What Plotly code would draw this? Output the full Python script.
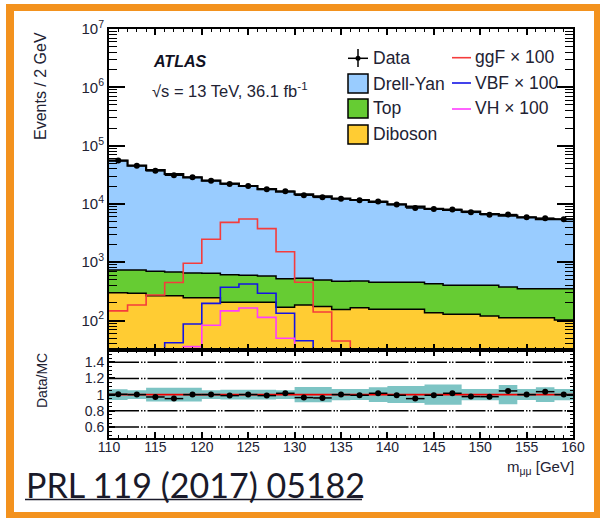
import plotly.graph_objects as go

# ---------------- data ----------------
bin_edges = list(range(110, 162, 2))
bin_centers = [e + 1 for e in bin_edges[:-1]]

drell_yan = [54400, 44500, 37400, 31900, 27900, 24400, 21600, 19700, 17400, 15700,
             14100, 13000, 11800, 11200, 10400, 9400, 8500, 7800, 7500, 6950,
             6310, 5900, 5540, 5150, 5100]
top = [434, 441, 432, 413, 407, 399, 406, 391, 375, 353, 345, 322, 316, 310, 296,
       296, 296, 292, 273, 273, 282, 264, 239, 239, 249]
diboson = [300, 293, 266, 266, 246, 246, 205, 205, 205, 168, 184, 173, 154, 166, 156,
           156, 156, 136, 128, 128, 119, 112, 112, 112, 102]
data = [55350, 45230, 36990, 30980, 28550, 25050, 21940, 20300, 17760, 16480,
        14090, 12940, 12270, 11580, 11030, 9770, 8510, 8160, 8030, 7170,
        6540, 6560, 5890, 5700, 5450]
ggf_x100 = [146, 184, 274, 449, 957, 2470, 4830, 5510, 3760, 1514, 452, 140, 44.5,
            0, 0, 0, 0, 0, 0, 0, 0, 0, 0, 0, 0]
vbf_x100 = [0, 0, 0, 41.6, 87, 197, 371, 423, 293, 133, 45, 0, 0,
            0, 0, 0, 0, 0, 0, 0, 0, 0, 0, 0, 0]
vh_x100 = [0, 0, 0, 0, 35.6, 82.7, 146, 164, 113, 49.5, 0, 0, 0,
           0, 0, 0, 0, 0, 0, 0, 0, 0, 0, 0, 0]
mc_rel_unc = [0.066, 0.055, 0.085, 0.085, 0.085, 0.055, 0.06, 0.06, 0.06, 0.055,
              0.095, 0.095, 0.07, 0.068, 0.09, 0.105, 0.105, 0.125, 0.125, 0.07,
              0.07, 0.12, 0.068, 0.09, 0.07]

main_tick_vals = [1e2, 1e3, 1e4, 1e5, 1e6, 1e7]
main_tick_text = ["10<sup>2</sup>", "10<sup>3</sup>", "10<sup>4</sup>",
                  "10<sup>5</sup>", "10<sup>6</sup>", "10<sup>7</sup>"]
ratio_tick_vals = [0.6, 0.8, 1.0, 1.2, 1.4]
ratio_tick_text = ["0.6", "0.8", "1", "1.2", "1.4"]
x_tick_vals = list(range(110, 161, 5))

# ---------------- helpers ----------------
FLOOR = 0.1


def step(vals):
    v = [x if x > 0 else FLOOR for x in vals]
    return v + [v[-1]]


stack1 = diboson
stack2 = [a + b for a, b in zip(diboson, top)]
stack3 = [a + b + c for a, b, c in zip(diboson, top, drell_yan)]
mc_total = stack3
ratio = [d / m for d, m in zip(data, mc_total)]
ratio_err = [d ** 0.5 / m for d, m in zip(data, mc_total)]
data_err = [d ** 0.5 for d in data]

C_DY = "rgb(153,204,255)"
C_TOP = "rgb(102,204,51)"
C_DIB = "rgb(255,204,51)"
C_BAND = "rgb(125,196,196)"
TXT = "#222233"
FONT = "Liberation Sans"

fig = go.Figure()

# baseline for fill
fig.add_trace(go.Scatter(x=bin_edges, y=[FLOOR] * len(bin_edges), mode="lines",
                         line=dict(width=0, shape="hv"), xaxis="x", yaxis="y",
                         hoverinfo="skip"))
fig.add_trace(go.Scatter(x=bin_edges, y=step(stack1), mode="lines", fill="tonexty",
                         fillcolor=C_DIB, line=dict(color="black", width=1.5, shape="hv"),
                         xaxis="x", yaxis="y", name="Diboson"))
fig.add_trace(go.Scatter(x=bin_edges, y=step(stack2), mode="lines", fill="tonexty",
                         fillcolor=C_TOP, line=dict(color="black", width=1.5, shape="hv"),
                         xaxis="x", yaxis="y", name="Top"))
fig.add_trace(go.Scatter(x=bin_edges, y=step(stack3), mode="lines", fill="tonexty",
                         fillcolor=C_DY, line=dict(color="black", width=2.2, shape="hv"),
                         xaxis="x", yaxis="y", name="Drell-Yan"))

for vals, col, nm in [(ggf_x100, "rgb(245,60,60)", "ggF"),
                      (vbf_x100, "rgb(20,20,230)", "VBF"),
                      (vh_x100, "rgb(255,60,255)", "VH")]:
    fig.add_trace(go.Scatter(x=bin_edges, y=step(vals), mode="lines",
                             line=dict(color=col, width=1.6, shape="hv"),
                             xaxis="x", yaxis="y", name=nm))

fig.add_trace(go.Scatter(x=bin_centers, y=data, mode="markers",
                         marker=dict(color="black", size=6),
                         error_x=dict(type="constant", value=1, color="black", thickness=1.5, width=0),
                         error_y=dict(type="data", array=data_err, color="black", thickness=1.5, width=0),
                         xaxis="x", yaxis="y", name="Data"))

# ratio panel
band_lo = [1 - u for u in mc_rel_unc]
band_hi = [1 + u for u in mc_rel_unc]
fig.add_trace(go.Scatter(x=bin_edges, y=band_lo + [band_lo[-1]], mode="lines",
                         line=dict(width=0, shape="hv"), xaxis="x2", yaxis="y2"))
fig.add_trace(go.Scatter(x=bin_edges, y=band_hi + [band_hi[-1]], mode="lines",
                         line=dict(width=0, shape="hv"), fill="tonexty", fillcolor=C_BAND,
                         xaxis="x2", yaxis="y2"))
fig.add_trace(go.Scatter(x=[bin_edges[0], bin_edges[-1]], y=[1, 1], mode="lines",
                         line=dict(color="rgb(240,0,0)", width=1.6), xaxis="x2", yaxis="y2"))
fig.add_trace(go.Scatter(x=bin_centers, y=ratio, mode="markers",
                         marker=dict(color="black", size=6),
                         error_x=dict(type="constant", value=1, color="black", thickness=1.5, width=0),
                         error_y=dict(type="data", array=ratio_err, color="black", thickness=1.5, width=0),
                         xaxis="x2", yaxis="y2"))

# ---------------- layout ----------------
W, H = 601, 518
L, R, T, B = 109, 573, 29, 438
Y_SPLIT = 350


def px(x):
    return (x - L) / (R - L)


def py(y):
    return (B - y) / (B - T)


split = py(Y_SPLIT)

axis_common = dict(showline=True, linecolor="black", linewidth=2, mirror="allticks",
                   ticks="inside", tickcolor="black", showgrid=False, zeroline=False,
                   tickfont=dict(family=FONT, size=14, color=TXT))

minor_log = [k * 10 ** p for p in range(1, 7) for k in range(2, 10)]

fig.update_layout(
    width=W, height=H,
    margin=dict(l=L, r=W - R, t=T, b=H - B, pad=0),
    paper_bgcolor="white", plot_bgcolor="white",
    showlegend=False,
    font=dict(family=FONT, color=TXT),
    xaxis=dict(**axis_common, domain=[0, 1], anchor="y", range=[110, 160],
               tickvals=x_tick_vals, ticklen=6, tickwidth=1.5, showticklabels=False,
               minor=dict(dtick=1, tick0=110, ticks="inside", ticklen=3, tickcolor="black", tickwidth=1.2)),
    yaxis=dict(**axis_common, domain=[split, 1], anchor="x", type="log", range=[1.494, 7],
               tickvals=main_tick_vals, ticktext=main_tick_text, ticklen=16, tickwidth=1.5,
               minor=dict(tickvals=minor_log, ticks="inside", ticklen=8, tickcolor="black", tickwidth=1.2)),
    xaxis2=dict(**axis_common, domain=[0, 1], anchor="y2", matches="x", range=[110, 160],
                tickvals=x_tick_vals, ticklen=6, tickwidth=1.5, ticklabelstandoff=-5,
                minor=dict(dtick=1, tick0=110, ticks="inside", ticklen=3, tickcolor="black", tickwidth=1.2)),
    yaxis2=dict(**axis_common, domain=[0, split], anchor="x2", range=[0.465, 1.55],
                tickvals=ratio_tick_vals, ticktext=ratio_tick_text, ticklen=6, tickwidth=1.5,
                minor=dict(dtick=0.05, tick0=0, ticks="inside", ticklen=3, tickcolor="black", tickwidth=1.2)),
)
fig.update_yaxes(tickfont_size=15, selector=dict(type="log"))

shapes = []
# ratio dash-dot-dot reference lines
for v in [0.6, 0.8, 1.2, 1.4]:
    shapes.append(dict(type="line", xref="x2 domain", yref="y2", x0=0, x1=1, y0=v, y1=v,
                       line=dict(color="black", width=1.5, dash="30px,2px,1.5px,1.5px,1.5px,2px")))


def box(x0, y0, x1, y1, fill):
    shapes.append(dict(type="rect", xref="paper", yref="paper", x0=px(x0), x1=px(x1),
                       y0=py(y1), y1=py(y0), fillcolor=fill,
                       line=dict(color="black", width=1.5)))


def hline(x0, x1, y, col, w=1.6):
    shapes.append(dict(type="line", xref="paper", yref="paper", x0=px(x0), x1=px(x1),
                       y0=py(y), y1=py(y), line=dict(color=col, width=w)))


# data marker legend
hline(348, 368, 58.3, "black", 1.5)
shapes.append(dict(type="line", xref="paper", yref="paper", x0=px(358), x1=px(358),
                   y0=py(49), y1=py(67), line=dict(color="black", width=1.5)))
shapes.append(dict(type="circle", xref="paper", yref="paper", x0=px(355.5), x1=px(360.5),
                   y0=py(60.8), y1=py(55.8), fillcolor="black", line=dict(color="black", width=0)))
box(348, 74, 368, 93, C_DY)
box(348, 99, 368, 118, C_TOP)
box(348, 125, 368, 144, C_DIB)
hline(452, 471, 57.7, "rgb(245,60,60)")
hline(452, 471, 83, "rgb(20,20,230)")
hline(452, 471, 109, "rgb(255,60,255)")

# orange frame
OR = "rgb(243,146,30)"
for (x0, y0, x1, y1) in [(6, 4, 14, 518), (6, 4, 600, 11), (594, 4, 600, 518), (6, 512, 600, 518)]:
    shapes.append(dict(type="rect", xref="paper", yref="paper", x0=px(x0), x1=px(x1),
                       y0=py(y1), y1=py(y0), fillcolor=OR, line=dict(width=0), layer="above"))

# underline of reference text
hline(25, 362, 499.5, "#1a1a2a", 1.5)

annotations = []


def text(x, y, s, size, anchor="left", angle=0, family=FONT, color=TXT, yanchor="middle"):
    annotations.append(dict(x=px(x), y=py(y), xref="paper", yref="paper", text=s,
                            showarrow=False, xanchor=anchor, yanchor=yanchor, textangle=angle,
                            font=dict(family=family, size=size, color=color)))


text(371, 58.5, "Data", 17.5)
text(371, 83.5, "Drell-Yan", 17.5)
text(371, 108.5, "Top", 17.5)
text(371, 134, "Diboson", 17.5)
text(473, 57, "ggF × 100", 17.5)
text(473, 82.5, "VBF × 100", 17.5)
text(473, 108.5, "VH × 100", 17.5)

text(151, 62, "<b><i>ATLAS</i></b>", 16, color="#111122")
text(150, 90, "√s = 13 TeV, 36.1 fb<sup>-1</sup>", 16.5)

text(40, 86, "Events / 2 GeV", 16, anchor="center", angle=-90)
text(42, 381, "Data/MC", 14, anchor="center", angle=-90)
text(576, 467, "m<sub>μμ</sub> [GeV]", 15, anchor="right")
text(24, 484, "PRL 119 (2017) 05182", 34, family="Lato", color="#1a1a2a")

fig.update_layout(shapes=shapes, annotations=annotations)

fig.write_html("out.html", config={"displayModeBar": False},
               post_script="document.body.style.margin='0px';document.body.style.padding='0px';")
